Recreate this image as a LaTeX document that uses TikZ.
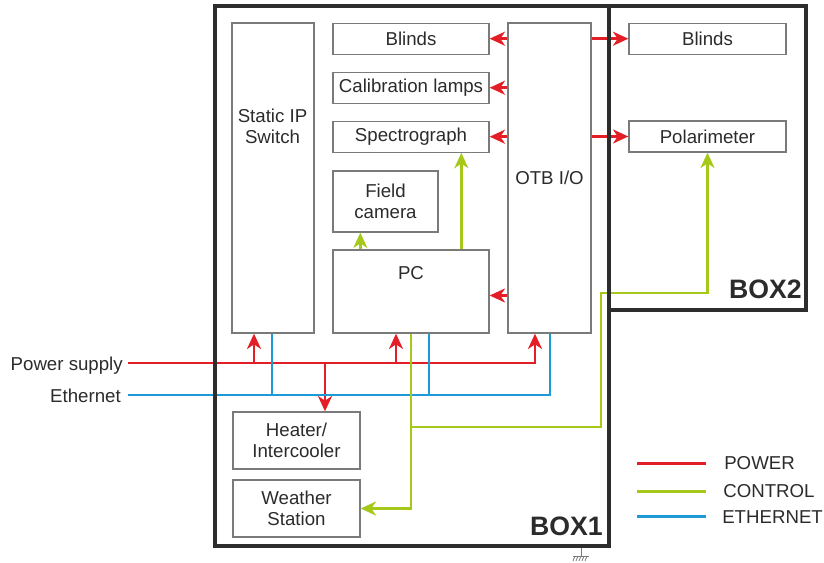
\documentclass[tikz,border=0pt]{standalone}
\usepackage{fontspec}
\setmainfont{Liberation Sans}
\usetikzlibrary{arrows.meta,calc}
\definecolor{pwr}{HTML}{E41E26}
\definecolor{ctl}{HTML}{A6C819}
\definecolor{eth}{HTML}{1B9AD7}
\definecolor{frame}{HTML}{2D2D2D}
\definecolor{edge}{HTML}{7A7A7A}
\definecolor{ink}{HTML}{2B2B2B}
\begin{document}
\begin{tikzpicture}[x=0.75pt,y=-0.75pt,
  box/.style={draw=edge,line width=1pt},
  dim/.style n args={2}{minimum width=#1*0.75pt,minimum height=#2*0.75pt},
  txt/.style={text=ink,font=\fontsize{14}{15.5}\selectfont,align=center,inner sep=0pt},
  big/.style={draw=frame,line width=3pt,inner sep=0pt},
  pw/.style={draw=pwr,line width=1.9pt},
  ct/.style={draw=ctl,line width=1.9pt},
  en/.style={draw=eth,line width=1.9pt},
  tip/.style={-{Stealth[length=11.5pt,width=10.5pt,inset=3.5pt]}},
  boxlabel/.style={text=ink,font=\fontsize{20}{24}\selectfont\bfseries,inner sep=0pt,anchor=base east},
  gnd/.style={draw=edge,line width=0.6pt}
]
\useasboundingbox (0,0) rectangle (824,563);

% inner boxes
\node[box,dim={82}{310}] (sw) at (273,178) {};
\node[txt] (swt) at (272.5,126) {Static IP\\Switch};
\node[box,dim={83}{310},txt] (otb) at (549.5,178) {OTB I/O};
\node[box,dim={156}{31},txt] (b1) at (411,38.7) {Blinds};
\node[box,dim={156}{31},txt] (cl) at (411,87.7) {Calibration lamps};
\node[box,dim={156}{31},txt] (sp) at (411,136.7) {Spectrograph};
\node[box,dim={105}{61},txt] (fc) at (385.5,201.5) {Field\\camera};
\node[box,dim={156}{83}] (pc) at (411,291.5) {};
\node[txt] (pct) at (411,273) {PC};
\node[box,dim={127}{57},txt] (ht) at (296.5,440.5) {Heater/\\Intercooler};
\node[box,dim={127}{57},txt] (ws) at (296.5,508.5) {Weather\\Station};
\node[box,dim={157}{31},txt] (b2) at (707.5,38.7) {Blinds};
\node[box,dim={157}{31},txt] (pol) at (707.5,136.5) {Polarimeter};

% power connectors
\draw[pw,tip] (otb.west |- b1.east) -- (b1.east);
\draw[pw,tip] (otb.west |- cl.east) -- (cl.east);
\draw[pw,tip] (otb.west |- sp.east) -- (sp.east);
\draw[pw,tip] (otb.east |- b2.west) -- (b2.west);
\draw[pw,tip] (otb.east |- pol.west) -- (pol.west);
\coordinate (pcin) at ($(pc.east)+(0,4)$);
\draw[pw,tip] (otb.west |- pcin) -- (pcin);

\coordinate (ps) at (128,363);
\coordinate (psend) at (535,363);
\coordinate (tsw) at (254,363);
\coordinate (tpc) at (396,363);
\coordinate (tht) at (325,363);
\draw[pw,tip] (ps) -- (psend) -- (psend |- otb.south);
\draw[pw,tip] (tsw) -- (tsw |- sw.south);
\draw[pw,tip] (tpc) -- (tpc |- pc.south);
\draw[pw,tip] (tht) -- (tht |- ht.north);

% ethernet connectors
\coordinate (es) at (128,395);
\coordinate (eend) at (550,395);
\coordinate (esw) at (272,395);
\coordinate (epc) at (429,395);
\draw[en] (es) -- (eend) -- (eend |- otb.south);
\draw[en] (esw) -- (esw |- sw.south);
\draw[en] (epc) -- (epc |- pc.south);

% control connectors
\draw[ct,tip] ($(pc.north west)+(28,0)$) -- ($(fc.south west)+(28,0)$);
\draw[ct,tip] ($(pc.north west)+(129,0)$) -- ($(sp.south west)+(129,0)$);
\draw[ct,tip] (pc.south) |- (ws.east);
\coordinate (cj) at (411,427);
\coordinate (ck) at (601,293);
\draw[ct,tip] (cj) -| (ck) -| (pol.south);

% side labels
\node[txt,anchor=base east] (lps) at (123,370) {Power supply};
\node[txt,anchor=base east] (leth) at (121,402) {Ethernet};

% frames
\node[big,dim={394.3}{539.5}] (box1) at (411.85,276.25) {};
\node[big,dim={197}{303.5}] (box2) at (707.5,158.25) {};
\node[boxlabel] (box1t) at (603,535) {BOX1};
\node[boxlabel] (box2t) at (802,298) {BOX2};

% ground mark
\coordinate (g) at (581,556);
\draw[gnd] (g |- box1.south) -- (g);
\draw[gnd] (573,556) -- (589,556);
\foreach \x in {575,578,...,589} \draw[gnd] (\x,556) -- (\x-2,561);

% legend
\coordinate (l1a) at (637,463.3); \coordinate (l1b) at (706,463.3);
\coordinate (l2a) at (637,491.7); \coordinate (l2b) at (706,491.7);
\coordinate (l3a) at (637,516.7); \coordinate (l3b) at (706,516.7);
\draw[pw] (l1a) -- (l1b);
\draw[ct] (l2a) -- (l2b);
\draw[en] (l3a) -- (l3b);
\node[txt,anchor=base west] (lg1) at (724,469.3) {POWER};
\node[txt,anchor=base west] (lg2) at (723,497.3) {CONTROL};
\node[txt,anchor=base west] (lg3) at (722,523.3) {ETHERNET};
\end{tikzpicture}
\end{document}
